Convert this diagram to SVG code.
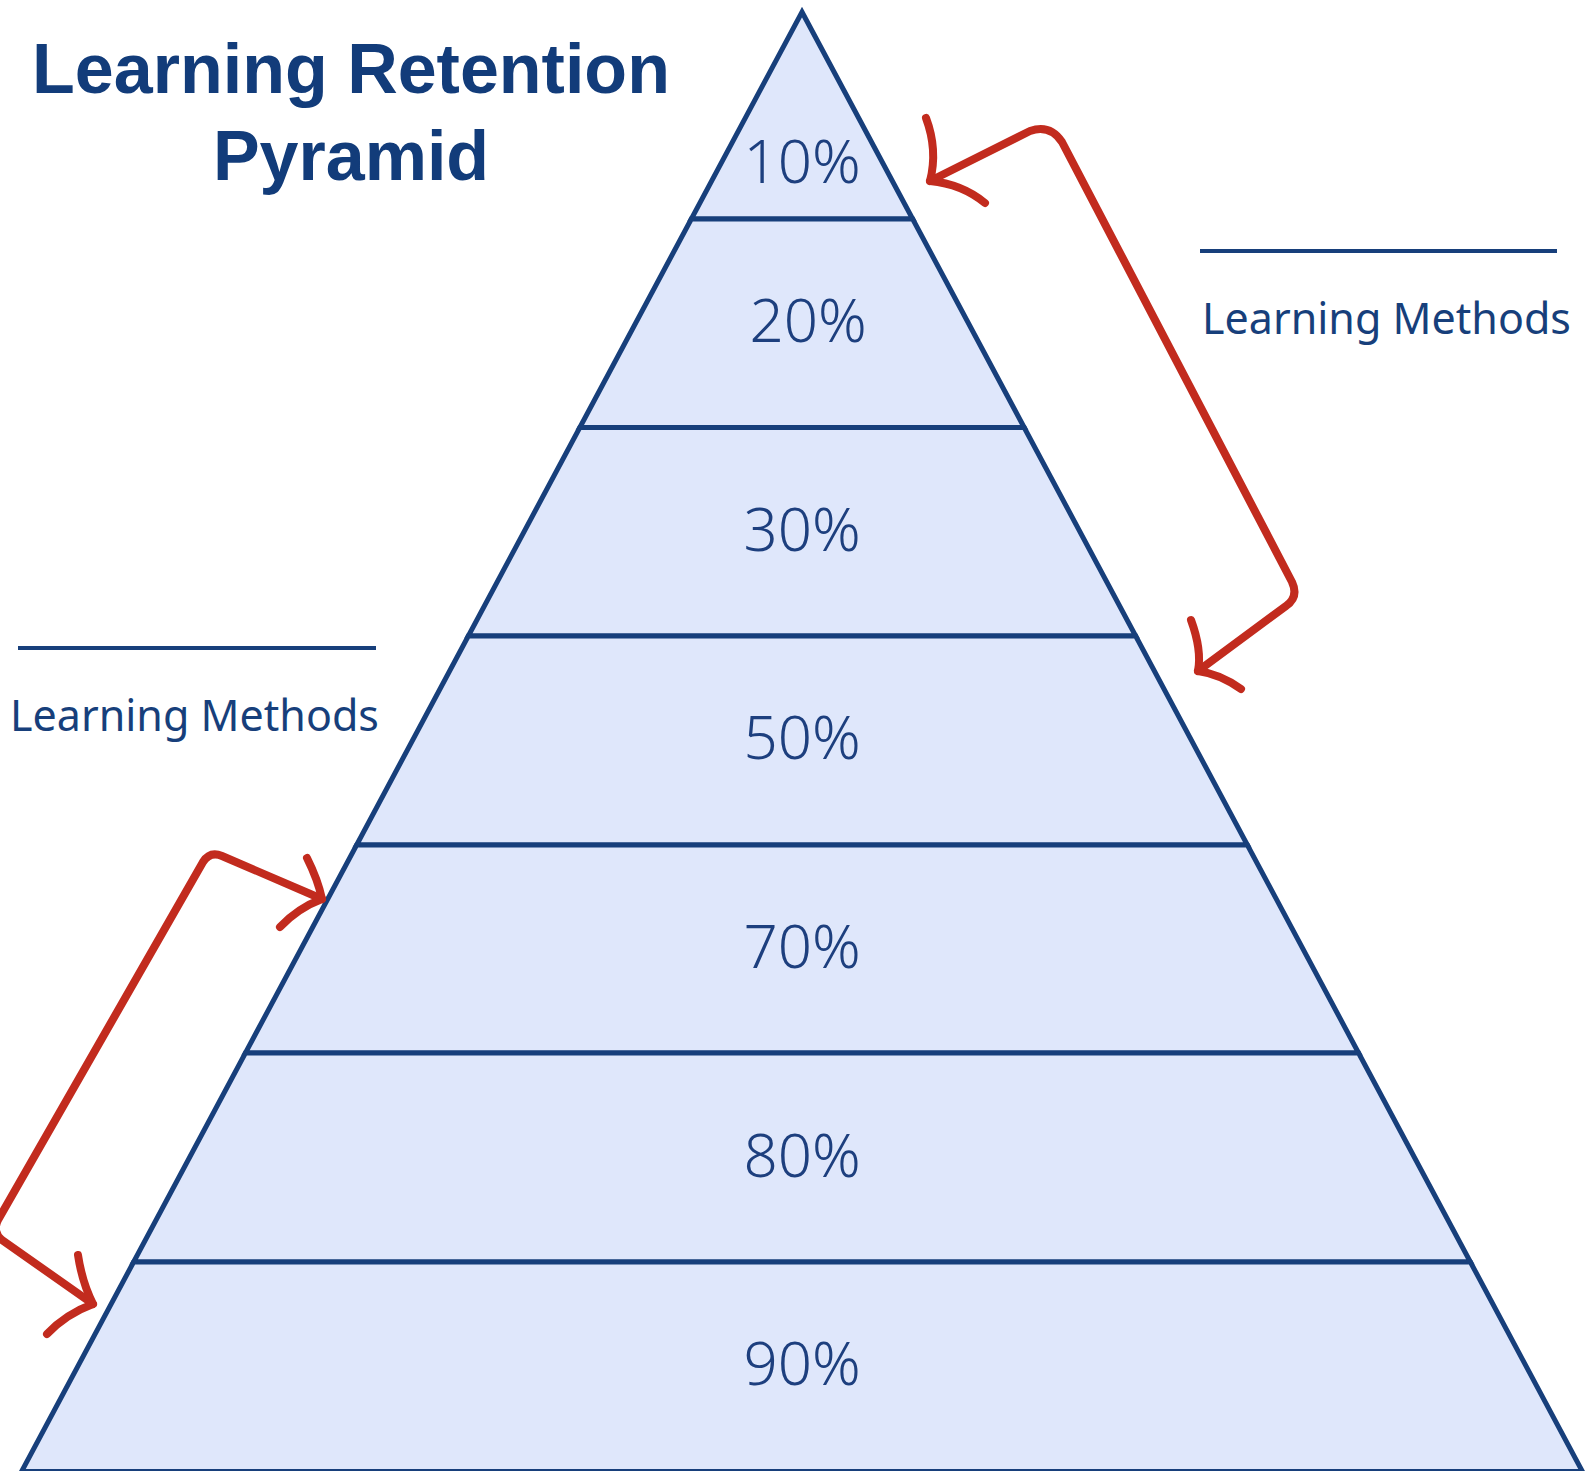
<svg xmlns="http://www.w3.org/2000/svg" width="1588" height="1471" viewBox="0 0 1588 1471">
<defs>
<style>
.band{fill:#dfe7fb;stroke:#173f7b;stroke-width:5;stroke-linejoin:miter}
.pct{font-family:"Noto Sans","Open Sans",sans-serif;font-weight:300;font-size:60px;fill:#1d3f7e;text-anchor:middle}
.title{font-family:"Liberation Sans",Arial,sans-serif;font-weight:bold;font-size:70px;fill:#123c7a;text-anchor:middle}
.lm{font-family:"Noto Sans","Open Sans",sans-serif;font-size:43px;fill:#173f7b}
.rule{stroke:#173f7b;stroke-width:4}
.red{fill:none;stroke:#c22b1e;stroke-width:8;stroke-linecap:round;stroke-linejoin:round}
</style>
</defs>
<rect width="1588" height="1471" fill="#ffffff"/>
<g id="title">
<text class="title" x="351" y="93">Learning Retention</text>
<text class="title" x="351" y="180">Pyramid</text>
</g>
<g id="band-10"><polygon class="band" points="802,12 912.7,219 691.3,219"/><text class="pct" x="802" y="183">10%</text></g>
<g id="band-20"><polygon class="band" points="691.3,219 912.7,219 1024.2,427.5 579.8,427.5"/><text class="pct" x="808" y="342">20%</text></g>
<g id="band-30"><polygon class="band" points="579.8,427.5 1024.2,427.5 1135.7,636 468.3,636"/><text class="pct" x="802" y="551">30%</text></g>
<g id="band-50"><polygon class="band" points="468.3,636 1135.7,636 1247.4,845 356.6,845"/><text class="pct" x="802" y="759">50%</text></g>
<g id="band-70"><polygon class="band" points="356.6,845 1247.4,845 1358.6,1053 245.4,1053"/><text class="pct" x="802" y="968">70%</text></g>
<g id="band-80"><polygon class="band" points="245.4,1053 1358.6,1053 1470.4,1262 133.6,1262"/><text class="pct" x="802" y="1177">80%</text></g>
<g id="band-90"><polygon class="band" points="133.6,1262 1470.4,1262 1582.4,1471.5 21.6,1471.5"/><text class="pct" x="802" y="1385">90%</text></g>
<g id="label-right">
<line class="rule" x1="1200" y1="251" x2="1557" y2="251"/>
<text class="lm" x="1202" y="334">Learning Methods</text>
</g>
<g id="label-left">
<line class="rule" x1="18" y1="648" x2="376" y2="648"/>
<text class="lm" x="10" y="731">Learning Methods</text>
</g>
<g id="connectors">
<path class="red" d="M930,181 L1030,131 Q1050,124 1062,142 L1292,582 Q1299,597 1286,606 L1198,671"/>
<path class="red" d="M926,118 Q938,150 930,181 Q962,184 985,203"/>
<path class="red" d="M1191,620 Q1202,650 1198,671 Q1220,674 1241,689"/>
<path class="red" d="M322,899 L222,856 Q210,851 203,862 L-2,1220 Q-8,1232 2,1240 L93,1304"/>
<path class="red" d="M307,858 Q318,880 322,899 Q298,908 280,927"/>
<path class="red" d="M78,1255 Q82,1282 93,1304 Q66,1314 47,1334"/>
</g>
</svg>
